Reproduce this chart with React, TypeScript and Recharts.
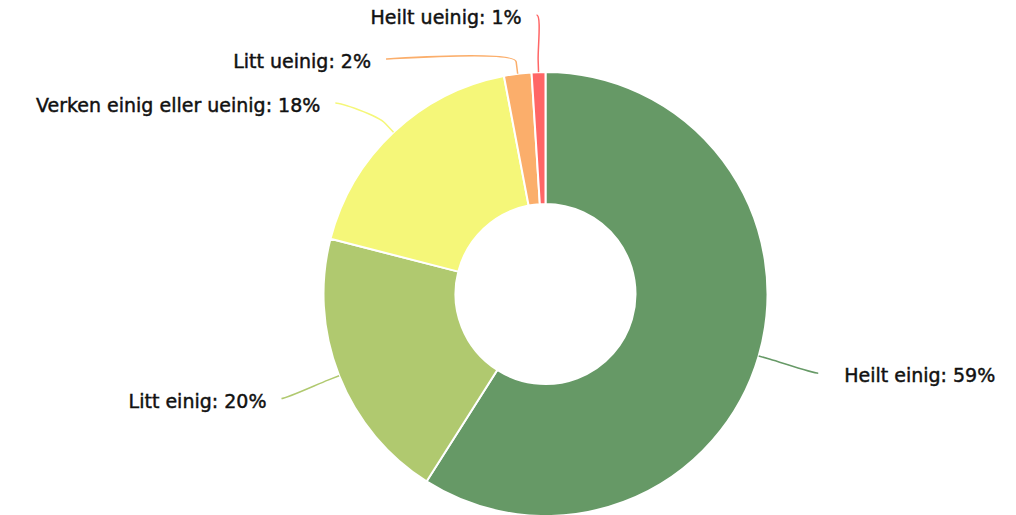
import { PieChart, Pie, Cell } from "recharts";

const categories = [
  "Heilt einig",
  "Litt einig",
  "Verken einig eller ueinig",
  "Litt ueinig",
  "Heilt ueinig",
];
const shares = [59, 20, 18, 2, 1];
const COLORS = ["#669966", "#b0c96f", "#f5f779", "#fbae6b", "#ff6666"];

const data = categories.map((name, i) => ({ name, value: shares[i] }));

const W = 1016;
const H = 515;
const CX = 545.5;
const CY = 294;
const OUTER = 222;
const INNER = 90;
const R_LABEL = OUTER + 62;
const R_BREAK = OUTER + 12;
const SLOT = 44;
const TOP_MIN = 15;
const RAD = Math.PI / 180;

// rough copy of how the labels are spread out so they do not overlap
const layoutLabels = () => {
  const total = shares.reduce((a, b) => a + b, 0);
  let angle = 90;
  const items = shares.map((v, i) => {
    const sweep = (360 * v) / total;
    const mid = angle - sweep / 2;
    angle -= sweep;
    const left = Math.cos(mid * RAD) < 0;
    return { i, left, ny: CY - R_LABEL * Math.sin(mid * RAD), x: 0, y: 0 };
  });
  [true, false].forEach((side) => {
    let prev = -Infinity;
    items
      .filter((it) => it.left === side)
      .sort((a, b) => a.ny - b.ny)
      .forEach((it) => {
        it.y = Math.max(it.ny, prev + SLOT, TOP_MIN);
        prev = it.y;
        const useY = Math.abs(it.y - CY) > R_LABEL - 20 ? it.ny : it.y;
        const dx = Math.sqrt(Math.max(R_LABEL * R_LABEL - (useY - CY) ** 2, 0));
        it.x = CX + (side ? -dx : dx);
      });
  });
  return items;
};

const labelPos = layoutLabels();

const renderLabel = (props: any) => {
  const { cx, cy, midAngle, outerRadius, index } = props;
  const pos = labelPos[index];
  const color = COLORS[index % COLORS.length];
  const cos = Math.cos(-midAngle * RAD);
  const sin = Math.sin(-midAngle * RAD);
  const touch = { x: cx + outerRadius * cos, y: cy + outerRadius * sin };
  const brk = {
    x: cx + (outerRadius + (R_BREAK - OUTER)) * cos,
    y: cy + (outerRadius + (R_BREAK - OUTER)) * sin,
  };
  const c1x = pos.x + (pos.left ? 5 : -5);
  const d =
    `M ${pos.x} ${pos.y} C ${c1x} ${pos.y} ${2 * brk.x - touch.x} ${2 * brk.y - touch.y} ${brk.x} ${brk.y}` +
    ` L ${touch.x} ${touch.y}`;
  return (
    <g key={`label-${index}`}>
      <path d={d} fill="none" stroke={color} strokeWidth={1.5} />
      <text
        x={pos.left ? pos.x - 15 : pos.x + 26}
        y={pos.y + 9}
        textAnchor={pos.left ? "end" : "start"}
        fill="#111111"
        stroke="#111111"
        strokeWidth={0.45}
        fontFamily="'DejaVu Sans', sans-serif"
        fontSize={19}
      >
        {`${categories[index]}: ${shares[index]}%`}
      </text>
    </g>
  );
};

export default function App() {
  return (
    <div style={{ position: "absolute", left: 0, top: 0, width: W, height: H, background: "#ffffff" }}>
      <PieChart width={W} height={H} margin={{ top: 0, right: 0, bottom: 0, left: 0 }}>
        <Pie
          data={data}
          dataKey="value"
          nameKey="name"
          cx={CX}
          cy={CY}
          innerRadius={INNER}
          outerRadius={OUTER}
          startAngle={90}
          endAngle={-270}
          stroke="#ffffff"
          strokeWidth={2}
          label={renderLabel}
          labelLine={false}
          isAnimationActive={false}
        >
          {data.map((_, index) => (
            <Cell key={`cell-${index}`} fill={COLORS[index % COLORS.length]} />
          ))}
        </Pie>
      </PieChart>
    </div>
  );
}
